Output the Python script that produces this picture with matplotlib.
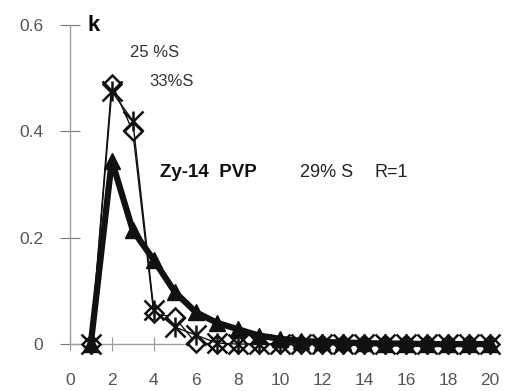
import numpy as np
import matplotlib.pyplot as plt

plt.rcParams['font.family'] = ['Liberation Sans', 'DejaVu Sans']

x = np.arange(1, 21)
# 29% S (thick, triangles)
k29 = [0, 0.345, 0.214, 0.158, 0.098, 0.06, 0.04, 0.028, 0.016, 0.01,
       0.006, 0.004, 0.003, 0.002, 0.001, 0.001, 0.0, 0.0, 0.0, 0.0]
# 25 %S (thin, diamonds)
k25 = [0, 0.49, 0.40, 0.058, 0.05, 0.002, 0, 0, 0, 0,
       0, 0, 0, 0, 0, 0, 0, 0, 0, 0]
# 33 %S (thin, stars)
k33 = [0, 0.475, 0.42, 0.064, 0.032, 0.017, 0.002, 0, 0, 0,
       0, 0, 0, 0, 0, 0, 0, 0, 0, 0]

xticks = np.arange(0, 21, 2)
yticks = [0, 0.2, 0.4, 0.6]
ylabels = ['0', '0.2', '0.4', '0.6']

fig = plt.figure(figsize=(5.13, 3.91), dpi=100)
ax = fig.add_axes([0.136, 0.12, 0.819, 0.816])

c = '#111111'
ax.plot(x, k25, color=c, lw=1, marker='D', ms=9, mfc='white', mec=c, mew=1.8, zorder=3)
ax.plot(x, k33, color=c, lw=1, marker='x', ms=14, mec=c, mew=1.8, zorder=4)
ax.plot(x, k33, ls='none', marker='|', ms=14, mec=c, mew=1.8, zorder=4)
ax.plot(x, k29, color=c, lw=4.5, marker='^', ms=11, mfc=c, mec=c, zorder=5)

ax.set_xlim(0, 20)
ax.set_ylim(0, 0.6)
ax.set_xticks(xticks)
ax.set_yticks(yticks)
ax.set_yticklabels(ylabels)
for s in ['top', 'right']:
    ax.spines[s].set_visible(False)
for s in ['left', 'bottom']:
    ax.spines[s].set_color('#9aa0a0')
    ax.spines[s].set_linewidth(1)
ax.tick_params(axis='y', direction='inout', length=14, color='#777777', labelcolor='#555555',
               labelsize=12.5, pad=12)
ax.tick_params(axis='x', direction='inout', length=10, color='#999999', labelcolor='#555555',
               labelsize=12.5, pad=16)
for sp in ax.spines.values():
    sp.set_clip_on(False)
for ln in ax.lines:
    ln.set_clip_on(False)

ax.text(0.86, 0.6, 'k', fontsize=16, fontweight='bold', ha='left', va='center')
ax.text(2.86, 0.549, '25 %S', fontsize=12, color='#333333', ha='left', va='center')
ax.text(3.8, 0.493, '33%S', fontsize=12, color='#333333', ha='left', va='center')
ax.text(4.29, 0.323, 'Zy-14  PVP', fontsize=13.5, fontweight='bold', color=c, ha='left', va='center')
ax.text(10.95, 0.323, '29% S', fontsize=13, color='#222222', ha='left', va='center')
ax.text(14.5, 0.323, 'R=1', fontsize=13, color='#222222', ha='left', va='center')

fig.savefig('out.png', dpi=100)
